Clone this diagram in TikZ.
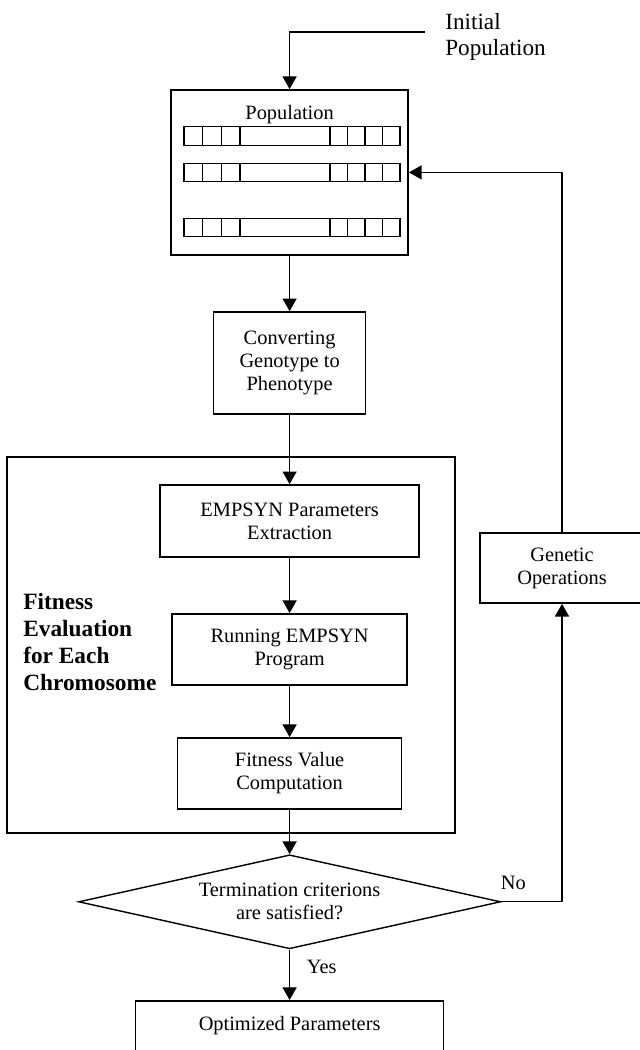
\documentclass[tikz,border=0pt]{standalone}
\usepackage{fontspec}
\setmainfont{Liberation Serif}
\usetikzlibrary{positioning, shapes.geometric, arrows.meta}

\begin{document}
\begin{tikzpicture}[>={Triangle[length=9pt, width=10pt]}, node distance=3cm, on grid,
    block/.style={draw, line width=1.2pt, align=center, inner sep=0pt, font=\fontsize{14.5}{16.4}\selectfont},
    lbl/.style={font=\fontsize{14.5}{16.4}\selectfont},
    chrom/.style={line width=0.9pt},
    flow/.style={->, line width=0.9pt}]
    \useasboundingbox (0,0) rectangle (16,-26.25);

    % Population with chromosomes
    \node[block, minimum width=5.925cm, minimum height=4.125cm] (pop) at (7.24,-4.31) {};
    \node[lbl, inner sep=0pt] (poptitle) at ([yshift=-0.63cm]pop.north) {Population};
    \begin{scope}[shift={(pop.center)}, x=0.025cm, y=0.025cm]
      \foreach \r in {36.5, 0, -55} {
        \draw[chrom] (-105.5,\r-9.25) rectangle (110.5,\r+9.25);
        \foreach \c in {18.67, 37.33, 56, 146, 163.5, 181, 198.5}
          \draw[chrom] (-105.5+\c,\r-9.25) -- ++(0,18.5);
      }
    \end{scope}

    % Initial population input
    \node[font=\fontsize{16.5}{18}\selectfont, align=left, anchor=west, inner sep=0pt] (initlbl) at (11.125,-0.925) {Initial\\Population};
    \coordinate (initpt) at (10.625,-0.8);

    \node[block, minimum width=3.8cm, minimum height=2.55cm] (conv) [below=4.765cm of pop] {Converting\\Genotype to\\Phenotype};

    % Fitness evaluation
    \node[draw, line width=1.6pt, minimum width=11.2cm, minimum height=9.4cm] (fitbox) at (5.775,-16.125) {};
    \node[block, minimum width=6.475cm, minimum height=1.8cm] (extract) [below=3.95cm of conv] {EMPSYN Parameters\\Extraction};
    \node[block, minimum width=5.875cm, minimum height=1.775cm] (run) [below=3.21cm of extract] {Running EMPSYN\\Program};
    \node[block, minimum width=5.6cm, minimum height=1.775cm] (fitval) [below=3.1cm of run] {Fitness Value\\Computation};
    \node[font=\fontsize{16.6}{19.2}\selectfont\bfseries, align=left, anchor=west, inner sep=0pt] (fitlbl) at (0.575,-16.05) {Fitness\\Evaluation\\for Each\\Chromosome};

    % Decision and output
    \node[block, diamond, aspect=4.5, minimum width=10.55cm, minimum height=2.35cm, line width=1pt] (check) [below=3.21cm of fitval] {Termination criterions\\are satisfied?};
    \node[block, minimum width=4.1cm, minimum height=1.75cm] (genop) at (14.05,-14.2) {Genetic\\Operations};
    \node[block, anchor=north, minimum width=7.7cm, inner ysep=0.375cm, text depth=2cm] (opt) at (7.24,-25) {Optimized Parameters};

    % Connections
    \draw[flow] (initpt) -| (pop.north);
    \draw[flow] (pop) -- (conv);
    \draw[flow] (conv) -- (extract);
    \draw[flow] (extract) -- (run);
    \draw[flow] (run) -- (fitval);
    \draw[flow] (fitval) -- (check);
    \draw[flow] (check) -- node[lbl, right, pos=0.35, xshift=0.3cm] {Yes} (opt);
    \draw[flow] (check.east) -| node[lbl, above, pos=0.1, yshift=0.18cm] {No} (genop.south);
    \draw[flow] (genop.north) |- (pop.east);
\end{tikzpicture}
\end{document}
